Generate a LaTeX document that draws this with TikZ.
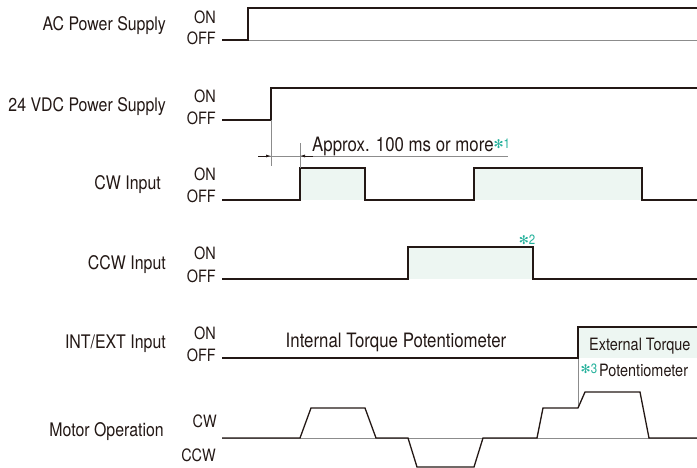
\documentclass[tikz,border=0pt]{standalone}
\usepackage{fontspec}
\setmainfont{TeX Gyre Heros}[FakeStretch=0.85]
\newfontfamily\symfont{DejaVu Sans}
\usetikzlibrary{arrows.meta,positioning}
\definecolor{ink}{HTML}{231815}
\definecolor{baseline}{HTML}{8C8C8C}
\definecolor{mint}{HTML}{EDF6F2}
\definecolor{notegreen}{HTML}{22B09A}
\newcommand{\notemark}[1]{\textcolor{notegreen}{{\symfont\fontsize{12}{12}\selectfont ✻}\fontsize{13.5}{13.5}\selectfont#1}}
\tikzset{
  rowlabel/.style={anchor=east, inner sep=0pt, text=ink, font=\fontsize{18.7}{19}\selectfont},
  levellabel/.style={anchor=east, inner sep=0pt, text=ink, font=\fontsize{17}{17}\selectfont},
  sigtext/.style={inner sep=0pt, text=ink, font=\fontsize{19.8}{20}\selectfont},
  edgetext/.style={inner sep=0pt, text=ink, anchor=west, font=\fontsize{17}{17}\selectfont},
  signal/.style={draw=ink, line width=1.3pt, line join=miter},
  zeroline/.style={draw=baseline, line width=0.9pt},
  dimline/.style={draw=baseline, line width=0.7pt},
  dimarr/.style={-{Latex[length=5pt,width=3pt]}, draw=ink, line width=0.7pt},
  onfill/.style={fill=mint, draw=none}}

\begin{document}
\begin{tikzpicture}[x=1pt, y=-1pt]
    \useasboundingbox (0,0) rectangle (697,468);
    % row labels
    \node[rowlabel] (lac)    at (166,26)  {AC Power Supply};
    \node[rowlabel] (ldc)    at (166,107) {24 VDC Power Supply};
    \node[rowlabel] (lcw)    at (161,185) {CW Input};
    \node[rowlabel] (lccw)   at (166,265) {CCW Input};
    \node[rowlabel] (lint)   at (166,344) {INT/EXT Input};
    \node[rowlabel] (lmotor) at (164,432) {Motor Operation};
    % ON / OFF labels
    \node[levellabel] (acon)   at (216,17)  {ON};
    \node[levellabel] (acoff)  at (216,38)  {OFF};
    \node[levellabel] (dcon)   at (216,96)  {ON};
    \node[levellabel] (dcoff)  at (216,118) {OFF};
    \node[levellabel] (cwon)   at (216,174) {ON};
    \node[levellabel] (cwoff)  at (216,196) {OFF};
    \node[levellabel] (ccwon)  at (216,253) {ON};
    \node[levellabel] (ccwoff) at (216,276) {OFF};
    \node[levellabel] (inton)  at (216,333) {ON};
    \node[levellabel] (intoff) at (216,355) {OFF};
    \node[levellabel] (mcw)    at (217,421) {CW};
    \node[levellabel] (mccw)   at (216,455) {CCW};
    % shaded ON periods
    \fill[onfill] (300,168) rectangle (365,200);
    \fill[onfill] (474,168) rectangle (642,200);
    \fill[onfill] (408,247) rectangle (533,279);
    \fill[onfill] (578,327) rectangle (697,358);
    % zero lines
    \draw[zeroline] (248,40) -- (697,40);
    \draw[zeroline] (222,438) -- (697,438);
    \draw[zeroline] (578,358) -- (578,408);
    % signals
    \draw[signal] (222,40) -- (248,40) -- (248,8) -- (697,8);
    \draw[signal] (222,120) -- (271,120) -- (271,88) -- (697,88);
    \draw[signal] (222,200) -- (300,200) -- (300,168) -- (365,168) -- (365,200)
                  -- (474,200) -- (474,168) -- (642,168) -- (642,200) -- (697,200);
    \draw[signal] (222,279) -- (408,279) -- (408,247) -- (533,247) -- (533,279) -- (697,279);
    \draw[signal] (222,358) -- (578,358) -- (578,327) -- (697,327);
    \draw[signal] (222,438) -- (300,438) -- (311,408) -- (365,408) -- (376,438)
                  -- (408,438) -- (417,467) -- (474,467) -- (483,438) -- (537,438)
                  -- (543,408) -- (578,408) -- (585,392) -- (640,392) -- (649,438) -- (697,438);
    % delay dimension
    \coordinate (dcup) at (271,120);
    \coordinate (cwup) at (300,168);
    \coordinate (dimleft) at (258,156);
    \coordinate (dimright) at (508,156);
    \draw[dimline] (dcup) -- ++(0,46);
    \draw[dimline] (cwup) -- ++(0,-25);
    \draw[dimline] (dimleft) -- (dimright);
    \draw[dimarr] (dimleft) -- (dcup |- dimleft);
    \draw[dimarr] ([xshift=13pt]cwup |- dimleft) -- (cwup |- dimleft);
    \node[sigtext, anchor=base west] (delay) at (312,152)
      {Approx. 100 ms or more\raisebox{3pt}{\notemark{1}}};
    \node[inner sep=0pt] (note2) at (527,240) {\notemark{2}};
    % torque source
    \node[sigtext] (inttorque) at (396,342) {Internal Torque Potentiometer};
    \node[edgetext] (exttorque) at (589,346) {External Torque};
    \node[edgetext] (extpot) at (599,370) {Potentiometer};
    \node[inner sep=0pt, anchor=east] (note3) at ([yshift=1pt]extpot.west) {\notemark{3}\,};
\end{tikzpicture}
\end{document}
